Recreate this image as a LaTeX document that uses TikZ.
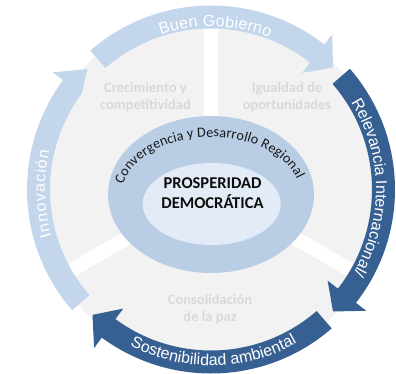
\documentclass[tikz,border=0pt]{standalone}
\usepackage{fontspec}
\setmainfont{Carlito}
\setsansfont{Liberation Sans}
\usetikzlibrary{decorations.text}
\definecolor{lightarr}{HTML}{C4D6EC}
\definecolor{darkarr}{HTML}{376092}
\definecolor{diskgray}{HTML}{F2F2F2}
\definecolor{secgray}{HTML}{D9D9D9}
\definecolor{ellout}{HTML}{B9CDE5}
\definecolor{ellin}{HTML}{E3EBF6}
\newcommand\ringfont{\sffamily\fontsize{16}{16}\selectfont}
\newcommand\convfont{\fontsize{14.2}{14.2}\selectfont}
% #1 colour, #2 tail angle, #3 head base angle, #4 tip angle, #5 inner wing radius
\newcommand\ringarrow[5]{%
  \fill[#1] (#2:184pt) arc[start angle=#2, end angle=#3, radius=184pt]
    -- (#3:197pt) -- (#4:172.5pt) -- (#3:#5) -- (#3:161pt)
    arc[start angle=#3, end angle=#2, radius=161pt] -- cycle;}
\tikzset{
  seclabel/.style={anchor=base, text=secgray, font=\bfseries\fontsize{14.5}{17}\selectfont, inner sep=0pt},
  centerlabel/.style={anchor=base, text=black!95, font=\bfseries\fontsize{16.5}{20}\selectfont, inner sep=0pt},
  sepline/.style={white, line width=14pt},
  ringtext/.style={decorate, decoration={text along path, text={|\ringfont|#1}, text align=fit to path, text color=white}}
}
\begin{document}
\begin{tikzpicture}[x=1pt, y=1pt]
\useasboundingbox (-211,-183.5) rectangle (185,189.5);
% grey disk and separators
\fill[diskgray] (0,0) circle[radius=176pt];
\draw[sepline] (0,0) -- (90:176pt);
\draw[sepline] (0,0) -- (210:176pt);
\draw[sepline] (0,0) -- (330:176pt);
% sector labels
\node[seclabel] (cre1) at (-65.5,96.8) {Crecimiento y};
\node[seclabel] (cre2) at (-65.5,80.2) {competitividad};
\node[seclabel] (igu1) at (76,96.8) {Igualdad de};
\node[seclabel] (igu2) at (76,80.2) {oportunidades};
\node[seclabel] (con1) at (-1,-114.8) {Consolidación};
\node[seclabel] (con2) at (-1,-131.5) {de la paz};
% ring arrows
\ringarrow{lightarr}{221}{143.5}{135.7}{161pt}
\ringarrow{lightarr}{131}{52}{45}{148pt}
\ringarrow{darkarr}{41}{-38}{-45}{148pt}
\ringarrow{darkarr}{-49}{-126.4}{-133.4}{148pt}
% ring texts
\path[ringtext={Buen Gobierno}] (108:163pt) arc[start angle=108, end angle=69, radius=163pt];
\path[ringtext={Relevancia Internacional/}] (32:165pt) arc[start angle=32, end angle=-30, radius=165pt];
\path[ringtext={Sostenibilidad ambiental}] (242.6:176pt) arc[start angle=242.6, end angle=299.2, radius=176pt];
\path[ringtext={Innovación}] (196.4:166pt) arc[start angle=196.4, end angle=166.4, radius=166pt];
% centre
\fill[ellout] (0,-5) ellipse[x radius=103pt, y radius=78.5pt];
\fill[ellin] (0.7,-14.5) ellipse[x radius=69pt, y radius=41pt];
\path[decorate, decoration={text along path, text={|\convfont|Convergencia y Desarrollo Regional}, text align=fit to path, text color=black!90}]
  (0,-7.5) ++(168:90pt and 60pt) arc[start angle=168, end angle=17, x radius=90pt, y radius=60pt];
\node[centerlabel] (pro) at (1.5,1.5) {PROSPERIDAD};
\node[centerlabel] (dem) at (1.5,-18.5) {DEMOCRÁTICA};
\end{tikzpicture}
\end{document}
